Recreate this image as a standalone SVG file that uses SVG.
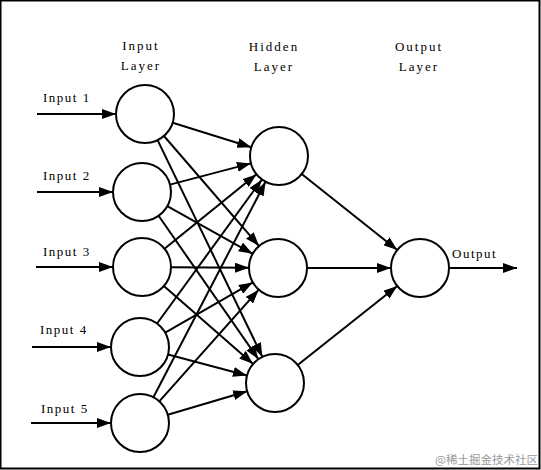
<svg xmlns="http://www.w3.org/2000/svg" width="541" height="470" viewBox="0 0 541 470">
<style>
.node{fill:#fff;stroke:#000;stroke-width:2}
.lbl{font-family:"Liberation Serif","Times New Roman",serif;font-size:13px;fill:#000;letter-spacing:1.5px}
.ttl{font-family:"Liberation Serif","Times New Roman",serif;font-size:13px;fill:#000;letter-spacing:2px;text-anchor:middle}
.edge line{stroke:#000;stroke-width:2;marker-end:url(#arr)}
.wm{font-family:"Noto Sans CJK SC","Noto Sans",sans-serif;font-size:11.5px;fill:#9a9a9a}
</style>
<defs>
<marker id="arr" markerUnits="userSpaceOnUse" markerWidth="14" markerHeight="10" refX="14" refY="5" orient="auto">
<path d="M0,0 L14,5 L0,10 z" fill="#000"/>
</marker>
</defs>
<rect x="0.5" y="0.5" width="539" height="468" fill="#fff" stroke="#000" stroke-width="2"/>
<text class="ttl" x="141" y="50">Input</text>
<text class="ttl" x="141" y="70">Layer</text>
<text class="ttl" x="274" y="51">Hidden</text>
<text class="ttl" x="274" y="71">Layer</text>
<text class="ttl" x="419" y="51">Output</text>
<text class="ttl" x="419" y="71">Layer</text>
<g id="connectors" class="edge">
<line x1="37" y1="114" x2="116" y2="114"/>
<line x1="37" y1="192" x2="113" y2="192"/>
<line x1="36" y1="267" x2="113" y2="267"/>
<line x1="32" y1="347" x2="111" y2="347"/>
<line x1="31" y1="423" x2="111" y2="423"/>
<line x1="172.7" y1="122.7" x2="251.3" y2="147.3"/>
<line x1="164.0" y1="136.0" x2="259.0" y2="246.0"/>
<line x1="157.6" y1="140.1" x2="262.4" y2="356.9"/>
<line x1="170.0" y1="184.6" x2="250.9" y2="163.4"/>
<line x1="167.3" y1="206.2" x2="252.7" y2="253.8"/>
<line x1="158.6" y1="215.8" x2="258.4" y2="359.2"/>
<line x1="164.5" y1="248.7" x2="256.5" y2="174.3"/>
<line x1="171" y1="267.2" x2="249" y2="267.8"/>
<line x1="163.9" y1="286.1" x2="253.1" y2="363.9"/>
<line x1="157.1" y1="323.5" x2="261.9" y2="179.5"/>
<line x1="165.2" y1="332.6" x2="252.8" y2="282.4"/>
<line x1="168.0" y1="354.5" x2="247.0" y2="375.5"/>
<line x1="153.4" y1="397.3" x2="265.6" y2="181.7"/>
<line x1="159.3" y1="401.3" x2="258.7" y2="289.7"/>
<line x1="167.8" y1="414.8" x2="247.2" y2="391.2"/>
<line x1="301.7" y1="174.0" x2="397.3" y2="250.0"/>
<line x1="307" y1="268" x2="391" y2="268"/>
<line x1="297.7" y1="365.0" x2="397.3" y2="286.0"/>
<line x1="449" y1="268" x2="517" y2="268"/>
</g>
<g id="in1"><circle class="node" cx="145" cy="114" r="29"/><text class="lbl" x="43" y="102">Input 1</text></g>
<g id="in2"><circle class="node" cx="142" cy="192" r="29"/><text class="lbl" x="43" y="180">Input 2</text></g>
<g id="in3"><circle class="node" cx="142" cy="267" r="29"/><text class="lbl" x="43" y="256">Input 3</text></g>
<g id="in4"><circle class="node" cx="140" cy="347" r="29"/><text class="lbl" x="40" y="334">Input 4</text></g>
<g id="in5"><circle class="node" cx="140" cy="423" r="29"/><text class="lbl" x="41" y="413">Input 5</text></g>
<g id="h1"><circle class="node" cx="279" cy="156" r="29"/></g>
<g id="h2"><circle class="node" cx="278" cy="268" r="29"/></g>
<g id="h3"><circle class="node" cx="275" cy="383" r="29"/></g>
<g id="out"><circle class="node" cx="420" cy="268" r="29"/><text class="lbl" x="452" y="258">Output</text></g>
<text class="wm" x="435" y="464">@稀土掘金技术社区</text>
</svg>
